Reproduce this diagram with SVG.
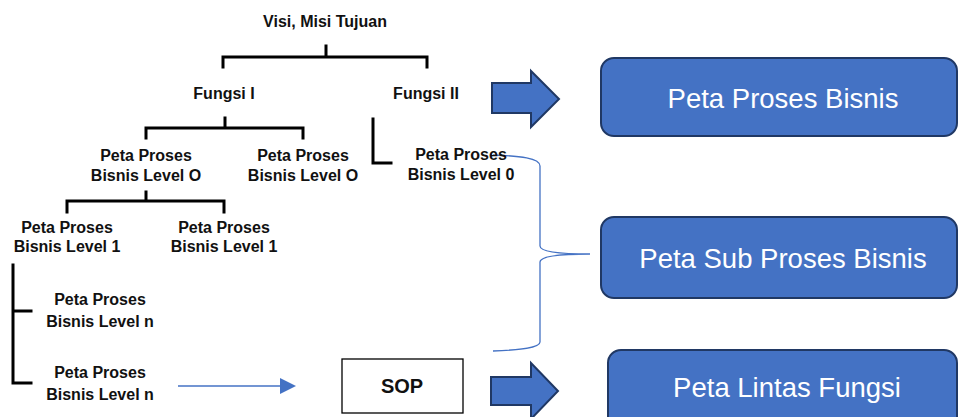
<svg xmlns="http://www.w3.org/2000/svg" width="958" height="417" viewBox="0 0 958 417">
  <style>
    .t { font-family: "Liberation Sans", Arial, sans-serif; font-weight: bold; font-size: 16px; fill: #111; text-anchor: middle; }
    .tree { fill: none; stroke: #000; stroke-width: 3; stroke-linejoin: miter; stroke-linecap: square; }
    .box { fill: #4472C4; stroke: #203864; stroke-width: 2; }
    .bt { font-family: "Liberation Sans", Arial, sans-serif; font-size: 27.5px; fill: #fff; text-anchor: middle; }
    .fat { fill: #4472C4; stroke: #203864; stroke-width: 2; stroke-linejoin: miter; }
    .thin { fill: none; stroke: #4472C4; stroke-width: 1.3; }
  </style>
  <defs>
    <marker id="tri" markerWidth="16" markerHeight="16" refX="0" refY="8" orient="auto" markerUnits="userSpaceOnUse">
      <polygon points="0,0 16,8 0,16" fill="#4472C4"/>
    </marker>
  </defs>

  <rect width="958" height="417" fill="#fff"/>

  <!-- hierarchy lines and brace -->
  <g id="connectors">
    <path class="tree" d="M223,67 V57 H427 V67 M326,46 V57"/>
    <path class="tree" d="M146,138 V128 H303 V138 M225,118 V128"/>
    <path class="tree" d="M67,212 V201 H224 V212 M146,192 V201"/>
    <path class="tree" d="M373,119 V163 H391"/>
    <path class="tree" d="M13,265 V383 H31 M13,311 H31"/>
    <line class="thin" x1="178" y1="386" x2="280" y2="386" marker-end="url(#tri)"/>
    <path class="thin" d="M493,155 C520,156 540,158 540,166 V246 C540,252 560,254 590,254 C560,254 540,256 540,262 V342 C540,348 520,350 493,351"/>
    <polygon class="fat" points="492,83 531,83 531,71 559,99 531,127 531,113 492,113"/>
    <polygon class="fat" points="491,377 531,377 531,363 558,391 531,419 531,405 491,405"/>
  </g>

  <g id="visi"><text class="t" x="325" y="27">Visi, Misi Tujuan</text></g>
  <g id="fungsi1"><text class="t" x="224" y="99">Fungsi I</text></g>
  <g id="fungsi2"><text class="t" x="426" y="99">Fungsi II</text></g>

  <g id="level0a"><text class="t" x="146" y="161">Peta Proses</text><text class="t" x="146" y="181">Bisnis Level O</text></g>
  <g id="level0b"><text class="t" x="303" y="161">Peta Proses</text><text class="t" x="303" y="181">Bisnis Level O</text></g>
  <g id="level0c"><text class="t" x="461" y="160">Peta Proses</text><text class="t" x="461" y="180">Bisnis Level 0</text></g>

  <g id="level1a"><text class="t" x="67" y="233">Peta Proses</text><text class="t" x="67" y="252">Bisnis Level 1</text></g>
  <g id="level1b"><text class="t" x="224" y="233">Peta Proses</text><text class="t" x="224" y="252">Bisnis Level 1</text></g>

  <g id="levelna"><text class="t" x="100" y="305">Peta Proses</text><text class="t" x="100" y="327">Bisnis Level n</text></g>
  <g id="levelnb"><text class="t" x="100" y="378">Peta Proses</text><text class="t" x="100" y="400">Bisnis Level n</text></g>

  <g id="sop">
    <rect x="342" y="359" width="121" height="54" fill="#fff" stroke="#000" stroke-width="1.3"/>
    <text class="t" x="402" y="393" style="font-size:20px">SOP</text>
  </g>

  <g id="peta-proses-bisnis">
    <rect class="box" x="601" y="58" width="356" height="78" rx="13"/>
    <text class="bt" x="783" y="108">Peta Proses Bisnis</text>
  </g>
  <g id="peta-sub-proses-bisnis">
    <rect class="box" x="601" y="217" width="356" height="81" rx="13"/>
    <text class="bt" x="783" y="268">Peta Sub Proses Bisnis</text>
  </g>
  <g id="peta-lintas-fungsi">
    <rect class="box" x="608" y="350" width="349" height="90" rx="13"/>
    <text class="bt" x="787" y="397">Peta Lintas Fungsi</text>
  </g>
</svg>
